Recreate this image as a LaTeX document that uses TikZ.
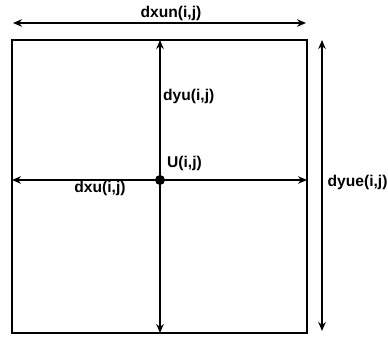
\documentclass[tikz,border=0pt]{standalone}
\usepackage{fontspec}
\setmainfont{Liberation Sans}
\usetikzlibrary{arrows.meta,positioning}

\tikzset{
  dimline/.style={{Stealth[length=9pt,width=7.5pt]}-{Stealth[length=9pt,width=7.5pt]}, line width=1.2pt},
  cellbox/.style={draw, line width=1.2pt},
  lbl/.style={font=\bfseries\fontsize{15.6}{18}\selectfont, inner sep=0pt}
}

\begin{document}
\begin{tikzpicture}[x=1pt,y=-1pt]
   \useasboundingbox (0,0) rectangle (388,337);
   % the cell
   \coordinate (nw) at (12,40);
   \coordinate (se) at (307,333);
   \draw[cellbox] (nw) rectangle (se);
   % mid points of the sides
   \coordinate (n) at (160,40);
   \coordinate (s) at (160,333);
   \coordinate (w) at (12,180);
   \coordinate (e) at (307,180);
   \fill (160,180) circle (5pt) coordinate (u);
   \draw[dimline] (n) -- (s);
   \draw[dimline] (w) -- (e);
   % outer dimensions
   \coordinate (tl) at (13,23);
   \coordinate (tr) at (306,23);
   \coordinate (rt) at (322,40);
   \coordinate (rb) at (322,331);
   \draw[dimline] (tl) -- (tr);
   \draw[dimline] (rt) -- (rb);
   % labels
   \node[lbl] (dxun) at (171,13) {dxun(i,j)};
   \node[lbl, anchor=west] (dyu) at (163,96) {dyu(i,j)};
   \node[lbl, anchor=west] (uij) at (167,163.5) {U(i,j)};
   \node[lbl] (dxu) at (100,188) {dxu(i,j)};
   \node[lbl, anchor=west] (dyue) at (327.5,182.5) {dyue(i,j)};
\end{tikzpicture}
\end{document}
